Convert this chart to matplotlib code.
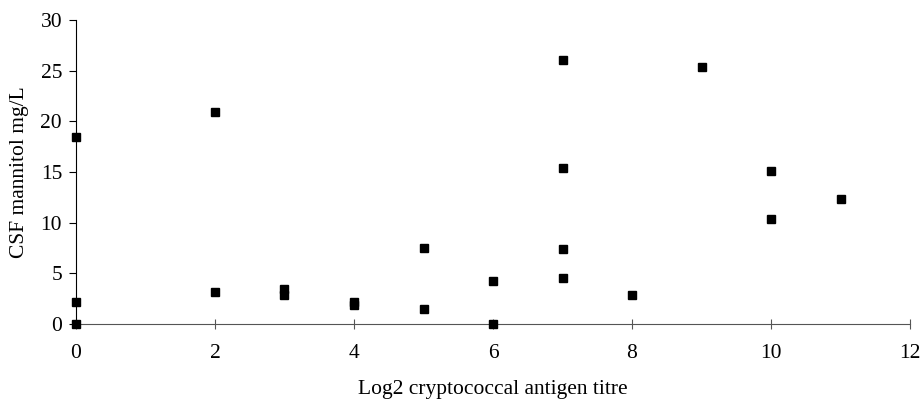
import matplotlib
matplotlib.use("Agg")
import matplotlib.pyplot as plt

titre = [0, 0, 0, 2, 2, 3, 3, 4, 4, 5, 5, 6, 6, 7, 7, 7, 7, 8, 9, 10, 10, 11]
mannitol = [18.5, 2.2, 0.0, 20.9, 3.2, 3.5, 2.9, 2.2, 1.9, 7.5, 1.5, 4.2, 0.0,
            26.1, 15.4, 7.4, 4.5, 2.85, 25.4, 15.1, 10.4, 12.35]
x_ticks = [0, 2, 4, 6, 8, 10, 12]
y_ticks = [0, 5, 10, 15, 20, 25, 30]

plt.rcParams['font.family'] = ['Liberation Serif', 'DejaVu Serif']

fig = plt.figure(figsize=(9.23, 4.0), dpi=100)
ax = fig.add_axes([0.0823, 0.19, 0.9037, 0.76])
ax.plot(titre, mannitol, linestyle='none', marker='s', markersize=5.2,
        color='black', clip_on=False, zorder=3)
ax.set_xlim(0, 12)
ax.set_ylim(0, 30)
ax.set_xticks(x_ticks)
ax.set_yticks(y_ticks)
ax.spines['top'].set_visible(False)
ax.spines['right'].set_visible(False)
ax.spines['left'].set_color('black')
ax.spines['left'].set_linewidth(0.8)
ax.spines['bottom'].set_color('#555555')
ax.spines['bottom'].set_linewidth(0.8)
ax.tick_params(axis='y', direction='out', length=5, width=0.8, labelsize=15.5, pad=5)
ax.tick_params(axis='x', direction='inout', length=7, width=0.8, labelsize=15.5, pad=11, color='#555555')
ax.set_xlabel('Log2 cryptococcal antigen titre', fontsize=15.5, labelpad=12)
ax.set_ylabel('CSF mannitol mg/L', fontsize=15.5, labelpad=8)
fig.savefig('out.png', dpi=100)
